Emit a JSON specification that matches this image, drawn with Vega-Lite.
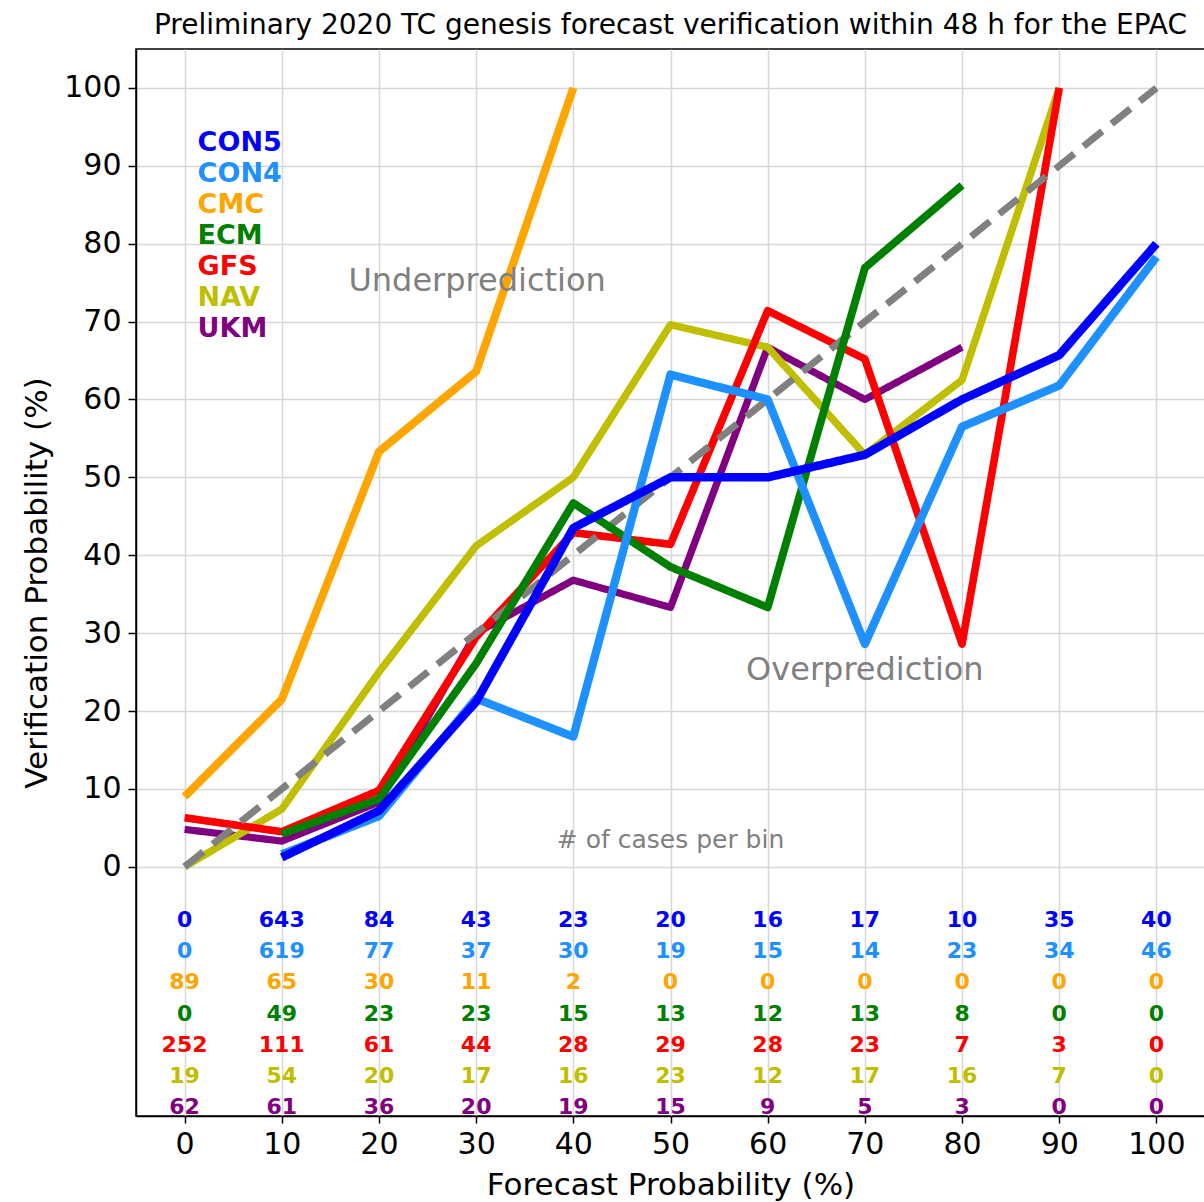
{
  "$schema": "https://vega.github.io/schema/vega-lite/v6.json",
  "width": 1069,
  "height": 1067,
  "autosize": {"type": "none"},
  "padding": {"left": 136, "top": 49, "right": 0, "bottom": 86},
  "background": "white",
  "config": {
    "font": "DejaVu Sans",
    "view": {"stroke": "black", "strokeWidth": 1.5},
    "axis": {
      "domainColor": "black", "domainWidth": 1.5,
      "tickColor": "black", "tickWidth": 1.5,
      "labelColor": "black", "titleColor": "black",
      "labelFont": "DejaVu Sans", "titleFont": "DejaVu Sans",
      "titleFontWeight": "normal",
      "gridColor": "#d6d6d6", "gridWidth": 1.5,
      "labelOverlap": false, "labelFlush": false
    }
  },
  "title": {
    "text": "Preliminary 2020 TC genesis forecast verification within 48 h for the EPAC",
    "fontSize": 28, "fontWeight": "normal", "color": "black",
    "anchor": "middle", "frame": "group", "baseline": "bottom", "offset": -19
  },
  "datasets": {
    "lines": [
      {"series": "UKM", "fp": 0, "vp": 4.8}, {"series": "UKM", "fp": 10, "vp": 3.3}, {"series": "UKM", "fp": 20, "vp": 8.3}, {"series": "UKM", "fp": 30, "vp": 30.0}, {"series": "UKM", "fp": 40, "vp": 36.8}, {"series": "UKM", "fp": 50, "vp": 33.3}, {"series": "UKM", "fp": 60, "vp": 66.7}, {"series": "UKM", "fp": 70, "vp": 60.0}, {"series": "UKM", "fp": 80, "vp": 66.7},
      {"series": "NAV", "fp": 0, "vp": 0}, {"series": "NAV", "fp": 10, "vp": 7.4}, {"series": "NAV", "fp": 20, "vp": 25.0}, {"series": "NAV", "fp": 30, "vp": 41.2}, {"series": "NAV", "fp": 40, "vp": 50.0}, {"series": "NAV", "fp": 50, "vp": 69.6}, {"series": "NAV", "fp": 60, "vp": 66.7}, {"series": "NAV", "fp": 70, "vp": 52.9}, {"series": "NAV", "fp": 80, "vp": 62.5}, {"series": "NAV", "fp": 90, "vp": 100},
      {"series": "GFS", "fp": 0, "vp": 6.3}, {"series": "GFS", "fp": 10, "vp": 4.5}, {"series": "GFS", "fp": 20, "vp": 9.8}, {"series": "GFS", "fp": 30, "vp": 29.5}, {"series": "GFS", "fp": 40, "vp": 42.9}, {"series": "GFS", "fp": 50, "vp": 41.4}, {"series": "GFS", "fp": 60, "vp": 71.4}, {"series": "GFS", "fp": 70, "vp": 65.2}, {"series": "GFS", "fp": 80, "vp": 28.6}, {"series": "GFS", "fp": 90, "vp": 100},
      {"series": "Perfect", "fp": 0, "vp": 0}, {"series": "Perfect", "fp": 100, "vp": 100},
      {"series": "ECM", "fp": 10, "vp": 4.2}, {"series": "ECM", "fp": 20, "vp": 8.7}, {"series": "ECM", "fp": 30, "vp": 26.1}, {"series": "ECM", "fp": 40, "vp": 46.7}, {"series": "ECM", "fp": 50, "vp": 38.5}, {"series": "ECM", "fp": 60, "vp": 33.3}, {"series": "ECM", "fp": 70, "vp": 76.9}, {"series": "ECM", "fp": 80, "vp": 87.5},
      {"series": "CMC", "fp": 0, "vp": 9.0}, {"series": "CMC", "fp": 10, "vp": 21.5}, {"series": "CMC", "fp": 20, "vp": 53.3}, {"series": "CMC", "fp": 30, "vp": 63.6}, {"series": "CMC", "fp": 40, "vp": 100},
      {"series": "CON4", "fp": 10, "vp": 1.6}, {"series": "CON4", "fp": 20, "vp": 6.5}, {"series": "CON4", "fp": 30, "vp": 21.6}, {"series": "CON4", "fp": 40, "vp": 16.7}, {"series": "CON4", "fp": 50, "vp": 63.2}, {"series": "CON4", "fp": 60, "vp": 60.0}, {"series": "CON4", "fp": 70, "vp": 28.6}, {"series": "CON4", "fp": 80, "vp": 56.5}, {"series": "CON4", "fp": 90, "vp": 61.8}, {"series": "CON4", "fp": 100, "vp": 78.3},
      {"series": "CON5", "fp": 10, "vp": 1.2}, {"series": "CON5", "fp": 20, "vp": 7.2}, {"series": "CON5", "fp": 30, "vp": 21.2}, {"series": "CON5", "fp": 40, "vp": 43.5}, {"series": "CON5", "fp": 50, "vp": 50.0}, {"series": "CON5", "fp": 60, "vp": 50.0}, {"series": "CON5", "fp": 70, "vp": 52.9}, {"series": "CON5", "fp": 80, "vp": 60.0}, {"series": "CON5", "fp": 90, "vp": 65.7}, {"series": "CON5", "fp": 100, "vp": 80.0}
    ],
    "counts": [
      {"series": "CON5", "fp": 0, "n": 0}, {"series": "CON5", "fp": 10, "n": 643}, {"series": "CON5", "fp": 20, "n": 84}, {"series": "CON5", "fp": 30, "n": 43}, {"series": "CON5", "fp": 40, "n": 23}, {"series": "CON5", "fp": 50, "n": 20}, {"series": "CON5", "fp": 60, "n": 16}, {"series": "CON5", "fp": 70, "n": 17}, {"series": "CON5", "fp": 80, "n": 10}, {"series": "CON5", "fp": 90, "n": 35}, {"series": "CON5", "fp": 100, "n": 40},
      {"series": "CON4", "fp": 0, "n": 0}, {"series": "CON4", "fp": 10, "n": 619}, {"series": "CON4", "fp": 20, "n": 77}, {"series": "CON4", "fp": 30, "n": 37}, {"series": "CON4", "fp": 40, "n": 30}, {"series": "CON4", "fp": 50, "n": 19}, {"series": "CON4", "fp": 60, "n": 15}, {"series": "CON4", "fp": 70, "n": 14}, {"series": "CON4", "fp": 80, "n": 23}, {"series": "CON4", "fp": 90, "n": 34}, {"series": "CON4", "fp": 100, "n": 46},
      {"series": "CMC", "fp": 0, "n": 89}, {"series": "CMC", "fp": 10, "n": 65}, {"series": "CMC", "fp": 20, "n": 30}, {"series": "CMC", "fp": 30, "n": 11}, {"series": "CMC", "fp": 40, "n": 2}, {"series": "CMC", "fp": 50, "n": 0}, {"series": "CMC", "fp": 60, "n": 0}, {"series": "CMC", "fp": 70, "n": 0}, {"series": "CMC", "fp": 80, "n": 0}, {"series": "CMC", "fp": 90, "n": 0}, {"series": "CMC", "fp": 100, "n": 0},
      {"series": "ECM", "fp": 0, "n": 0}, {"series": "ECM", "fp": 10, "n": 49}, {"series": "ECM", "fp": 20, "n": 23}, {"series": "ECM", "fp": 30, "n": 23}, {"series": "ECM", "fp": 40, "n": 15}, {"series": "ECM", "fp": 50, "n": 13}, {"series": "ECM", "fp": 60, "n": 12}, {"series": "ECM", "fp": 70, "n": 13}, {"series": "ECM", "fp": 80, "n": 8}, {"series": "ECM", "fp": 90, "n": 0}, {"series": "ECM", "fp": 100, "n": 0},
      {"series": "GFS", "fp": 0, "n": 252}, {"series": "GFS", "fp": 10, "n": 111}, {"series": "GFS", "fp": 20, "n": 61}, {"series": "GFS", "fp": 30, "n": 44}, {"series": "GFS", "fp": 40, "n": 28}, {"series": "GFS", "fp": 50, "n": 29}, {"series": "GFS", "fp": 60, "n": 28}, {"series": "GFS", "fp": 70, "n": 23}, {"series": "GFS", "fp": 80, "n": 7}, {"series": "GFS", "fp": 90, "n": 3}, {"series": "GFS", "fp": 100, "n": 0},
      {"series": "NAV", "fp": 0, "n": 19}, {"series": "NAV", "fp": 10, "n": 54}, {"series": "NAV", "fp": 20, "n": 20}, {"series": "NAV", "fp": 30, "n": 17}, {"series": "NAV", "fp": 40, "n": 16}, {"series": "NAV", "fp": 50, "n": 23}, {"series": "NAV", "fp": 60, "n": 12}, {"series": "NAV", "fp": 70, "n": 17}, {"series": "NAV", "fp": 80, "n": 16}, {"series": "NAV", "fp": 90, "n": 7}, {"series": "NAV", "fp": 100, "n": 0},
      {"series": "UKM", "fp": 0, "n": 62}, {"series": "UKM", "fp": 10, "n": 61}, {"series": "UKM", "fp": 20, "n": 36}, {"series": "UKM", "fp": 30, "n": 20}, {"series": "UKM", "fp": 40, "n": 19}, {"series": "UKM", "fp": 50, "n": 15}, {"series": "UKM", "fp": 60, "n": 9}, {"series": "UKM", "fp": 70, "n": 5}, {"series": "UKM", "fp": 80, "n": 3}, {"series": "UKM", "fp": 90, "n": 0}, {"series": "UKM", "fp": 100, "n": 0}
    ],
    "models": [
      {"series": "CON5"}, {"series": "CON4"}, {"series": "CMC"}, {"series": "ECM"}, {"series": "GFS"}, {"series": "NAV"}, {"series": "UKM"}
    ],
    "regions": [
      {"label": "Underprediction", "x": 30.1, "y": 73.9},
      {"label": "Overprediction", "x": 70.0, "y": 24.0}
    ],
    "note": [
      {"label": "# of cases per bin", "x": 50.0, "y": 2.4}
    ]
  },
  "layer": [
    {
      "layer": [
        {
          "data": {"name": "lines"},
          "mark": {"type": "line", "strokeJoin": "round", "strokeCap": "butt"},
          "encoding": {
            "x": {
              "field": "fp", "type": "quantitative",
              "scale": {"domain": [-5, 105], "nice": false, "zero": false},
              "axis": {
                "values": [0, 10, 20, 30, 40, 50, 60, 70, 80, 90, 100],
                "title": "Forecast Probability (%)",
                "labelFontSize": 30, "titleFontSize": 31,
                "tickSize": 7, "labelPadding": 6, "titlePadding": 11, "grid": true
              }
            },
            "y": {
              "field": "vp", "type": "quantitative",
              "scale": {"domain": [-32, 105], "nice": false, "zero": false},
              "axis": {
                "values": [0, 10, 20, 30, 40, 50, 60, 70, 80, 90, 100],
                "title": "Verification Probability (%)",
                "labelFontSize": 30, "titleFontSize": 31,
                "tickSize": 8, "labelPadding": 7, "titlePadding": 10, "grid": true
              }
            },
            "color": {
              "field": "series", "type": "nominal", "legend": null,
              "scale": {
                "domain": ["CON5", "CON4", "CMC", "ECM", "GFS", "NAV", "UKM", "Perfect"],
                "range": ["#0000ff", "#1e90ff", "#ffa500", "#008000", "#ff0000", "#bfbf00", "#800080", "#808080"]
              }
            },
            "strokeWidth": {
              "field": "series", "type": "nominal", "legend": null,
              "scale": {
                "domain": ["CON5", "CON4", "CMC", "ECM", "GFS", "NAV", "UKM", "Perfect"],
                "range": [8.5, 7, 5, 5, 5, 5, 5, 5.5]
              }
            },
            "strokeDash": {
              "field": "series", "type": "nominal", "legend": null,
              "scale": {
                "domain": ["CON5", "CON4", "CMC", "ECM", "GFS", "NAV", "UKM", "Perfect"],
                "range": [[1, 0], [1, 0], [1, 0], [1, 0], [1, 0], [1, 0], [1, 0], [24, 12]]
              }
            }
          }
        },
        {
          "data": {"name": "regions"},
          "mark": {"type": "text", "fontSize": 32, "color": "#808080", "align": "center", "baseline": "alphabetic"},
          "encoding": {
            "x": {"field": "x", "type": "quantitative"},
            "y": {"field": "y", "type": "quantitative"},
            "text": {"field": "label", "type": "nominal"}
          }
        },
        {
          "data": {"name": "note"},
          "mark": {"type": "text", "fontSize": 25, "color": "#808080", "align": "center", "baseline": "alphabetic"},
          "encoding": {
            "x": {"field": "x", "type": "quantitative"},
            "y": {"field": "y", "type": "quantitative"},
            "text": {"field": "label", "type": "nominal"}
          }
        }
      ]
    },
    {
      "data": {"name": "counts"},
      "mark": {"type": "text", "fontSize": 22, "fontWeight": "bold", "align": "center", "baseline": "alphabetic"},
      "encoding": {
        "x": {"field": "fp", "type": "quantitative"},
        "y": {
          "field": "series", "type": "nominal", "axis": null,
          "scale": {"type": "point", "domain": ["CON5", "CON4", "CMC", "ECM", "GFS", "NAV", "UKM"], "range": [878, 1065], "padding": 0}
        },
        "text": {"field": "n", "type": "quantitative"},
        "color": {"field": "series", "type": "nominal", "legend": null}
      }
    },
    {
      "data": {"name": "models"},
      "mark": {"type": "text", "fontSize": 27, "fontWeight": "bold", "align": "left", "baseline": "alphabetic"},
      "encoding": {
        "x": {"datum": 1.34, "type": "quantitative"},
        "y": {
          "field": "series", "type": "nominal", "axis": null,
          "scale": {"type": "point", "domain": ["CON5", "CON4", "CMC", "ECM", "GFS", "NAV", "UKM"], "range": [102, 288], "padding": 0}
        },
        "text": {"field": "series", "type": "nominal"},
        "color": {"field": "series", "type": "nominal", "legend": null}
      }
    }
  ],
  "resolve": {"scale": {"y": "independent"}}
}
